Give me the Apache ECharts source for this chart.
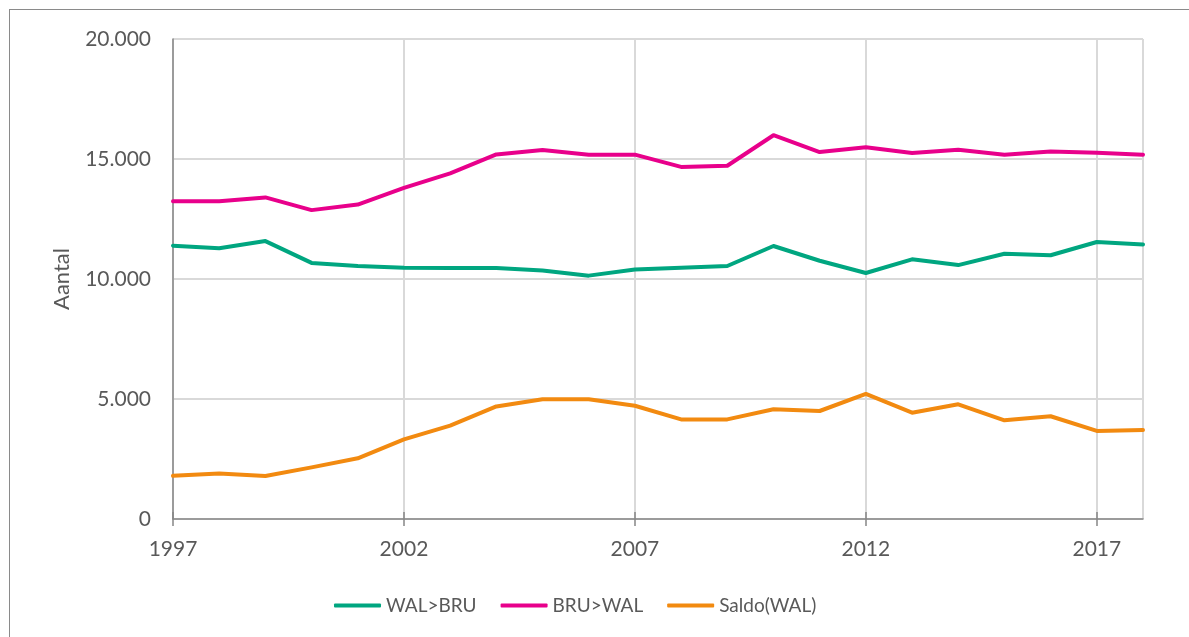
<!DOCTYPE html>
<html>
<head>
<meta charset="utf-8">
<script src="https://cdn.jsdelivr.net/npm/echarts@6/dist/echarts.min.js"></script>
<style>
html,body{margin:0;padding:0;width:1189px;height:637px;overflow:hidden;background:#fff;}
#frame{position:absolute;left:9px;top:9px;width:1300px;height:800px;border:1px solid #8a8a8a;box-sizing:border-box;}
#chart{position:absolute;left:0;top:0;width:1189px;height:637px;}
</style>
</head>
<body>
<div id="frame"></div>
<div id="chart"></div>
<script>
const years = ['1997','1998','1999','2000','2001','2002','2003','2004','2005','2006','2007','2008','2009','2010','2011','2012','2013','2014','2015','2016','2017','2018'];
const walBru = [11390,11280,11580,10670,10540,10470,10460,10460,10350,10140,10400,10470,10540,11375,10760,10250,10820,10580,11050,10990,11540,11440];
const bruWal = [13240,13240,13400,12870,13100,13800,14400,15190,15375,15180,15180,14670,14720,15990,15290,15490,15250,15390,15180,15310,15260,15180];
const saldo  = [1800,1900,1790,2150,2530,3320,3890,4690,4990,4990,4720,4150,4150,4570,4500,5210,4430,4780,4110,4280,3670,3710];
const seriesNames = ['WAL>BRU','BRU>WAL','Saldo(WAL)'];
const colors = ['#00a680','#e8008b','#f28a10'];
const yTicks = {min:0, max:20000, interval:5000};

const FONT = 'Lato';
const FS = 21;
const TXT = '#595959';
const chart = echarts.init(document.getElementById('chart'));
const fmt = v => String(v).replace(/\B(?=(\d{3})+(?!\d))/g, '.');
const gridIdx = (i) => i % 5 === 0 || i === years.length - 1;

function mk(name, data, color){
  return {name, type:'line', data, symbol:'none', smooth:false,
    lineStyle:{color, width:4, cap:'round', join:'round'}, itemStyle:{color}, z:3};
}

chart.setOption({
  animation:false,
  textStyle:{fontFamily:FONT},
  grid:{left:173, right:46, top:39, bottom:118, containLabel:false},
  legend:{
    left:329, top:591, itemWidth:47, itemHeight:4, itemGap:24, icon:'roundRect',
    textStyle:{fontFamily:FONT, fontSize:19, color:TXT},
    data:seriesNames
  },
  xAxis:[{
    type:'category', data:years, boundaryGap:false,
    axisLine:{show:true, lineStyle:{color:'#868686', width:1.5}},
    axisTick:{show:true, interval:4, length:7, lineStyle:{color:'#868686', width:1.5}},
    axisLabel:{interval:4, fontFamily:FONT, fontSize:FS, color:TXT, margin:20},
    splitLine:{show:true, interval:gridIdx, lineStyle:{color:'#d9d9d9', width:2}}
  },{
    type:'category', data:years, boundaryGap:false, position:'bottom',
    axisLine:{show:false},
    axisTick:{show:true, inside:true, interval:4, length:7, lineStyle:{color:'#868686', width:1.5}},
    axisLabel:{show:false}, splitLine:{show:false}
  }],
  yAxis:{
    type:'value', min:yTicks.min, max:yTicks.max, interval:yTicks.interval,
    name:'Aantal', nameLocation:'middle', nameGap:100, nameRotate:90,
    nameTextStyle:{fontFamily:FONT, fontSize:22, color:TXT},
    axisLine:{show:true, lineStyle:{color:'#868686', width:1.5}},
    axisTick:{show:false},
    axisLabel:{formatter:fmt, fontFamily:FONT, fontSize:FS, color:TXT, margin:22},
    splitLine:{show:true, lineStyle:{color:'#d9d9d9', width:2}}
  },
  series:[
    mk(seriesNames[0], walBru, colors[0]),
    mk(seriesNames[1], bruWal, colors[1]),
    mk(seriesNames[2], saldo, colors[2])
  ]
});
</script>
</body>
</html>
